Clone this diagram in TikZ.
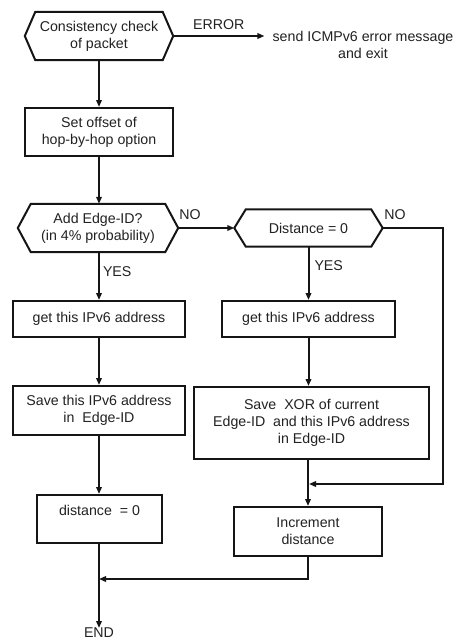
\documentclass[tikz,border=0pt]{standalone}
\usepackage{fontspec}
\setmainfont{Liberation Sans}
\usetikzlibrary{arrows.meta,calc}

\definecolor{ink}{HTML}{151515}
\definecolor{txt}{HTML}{222222}

\tikzset{
  x=1pt, y=-1pt,
  every node/.style={font=\fontsize{14.2}{17}\selectfont, text=txt, align=center, inner sep=0pt},
  box/.style={draw=ink, line width=2pt, minimum width=#1},
  hexnode/.style={minimum width=#1},
  flow/.style={draw=ink, line width=2pt, -{Triangle[length=7pt,width=5.5pt]}},
  lbl/.style={font=\fontsize{14.2}{17}\selectfont}
}

% hexagon drawn around a (text-only) node, with point depth #2
\newcommand{\hexaround}[2]{%
  \draw[ink, line width=2pt, line join=miter]
    (#1.west) -- ([xshift=#2]#1.north west) -- ([xshift=-#2]#1.north east)
    -- (#1.east) -- ([xshift=-#2]#1.south east) -- ([xshift=#2]#1.south west) -- cycle;}

\begin{document}
\begin{tikzpicture}
\useasboundingbox[fill=white] (0,0) rectangle (458,641);

% decision and process nodes
\node[hexnode=148pt, minimum height=48pt] (check) at (99,36) {Consistency check\\of packet};
\hexaround{check}{10.5pt}
\node[box=148pt, minimum height=48pt] (offset) at (99,132) {Set offset of\\hop-by-hop option};
\node[hexnode=160pt, minimum height=48pt] (addid) at (98,228) {Add Edge-ID?\\(in 4\% probability)};
\hexaround{addid}{13pt}
\node[hexnode=148pt, minimum height=37pt] (dist) at (308.5,228) {Distance = 0};
\hexaround{dist}{11.5pt}

\node[box=172pt, minimum height=36pt] (getl) at (99,319) {get this IPv6 address};
\node[box=173pt, minimum height=36pt] (getr) at (308.5,319) {get this IPv6 address};
\node[box=172pt, minimum height=49pt] (savel) at (99,410.5) {Save this IPv6 address\\in\ \ Edge-ID};
\node[box=235pt, minimum height=72pt] (xor) at (311.5,423) {Save\ \ XOR of current\\Edge-ID\ \ and this IPv6 address\\in Edge-ID};
\node[box=125pt, minimum height=48pt] (zero) at (99.5,519) {distance\ \ = 0\\\mbox{}};
\node[box=148pt, minimum height=49pt] (incr) at (308,531.5) {Increment\\distance};

\node[inner xsep=8pt] (send) at (363,44.5) {send ICMPv6 error message\\and exit};
\node[anchor=north] (end) at (99,628) {END};

% junction points
\coordinate (rc) at (443,484);
\coordinate (jr) at (309,484);
\coordinate (jl) at (99,579);

% connectors
\draw[flow] (check.east) -- (check.east -| send.west)
  node[midway, above=5pt, lbl] (err) {ERROR};
\draw[flow] (check.south) -- (offset.north);
\draw[flow] (offset.south) -- (addid.north -| offset.south);
\draw[flow] (addid.east) -- (dist.west);
\node[lbl] (no1) at (190,215) {NO};
\draw[flow] (addid.south -| getl.north) -- (getl.north)
  node[pos=0.4, right=3pt, lbl] (yes1) {YES};
\draw[flow] (dist.south) -- (getr.north)
  node[pos=0.35, right=5pt, lbl] (yes2) {YES};
\draw[flow] (dist.east) -| (rc) -- (jr);
\node[lbl] (no2) at (395,215) {NO};

\draw[flow] (getl.south) -- (savel.north);
\draw[flow] (getr.south) -- (getr.south |- xor.north);
\draw[flow] (savel.south) -- (savel.south |- zero.north);
\draw[flow] (xor.south -| incr.north) -- (incr.north);
\draw[flow] (incr.south) |- (jl);
\draw[flow] (zero.south -| end.north) -- (end.north);
\end{tikzpicture}
\end{document}
